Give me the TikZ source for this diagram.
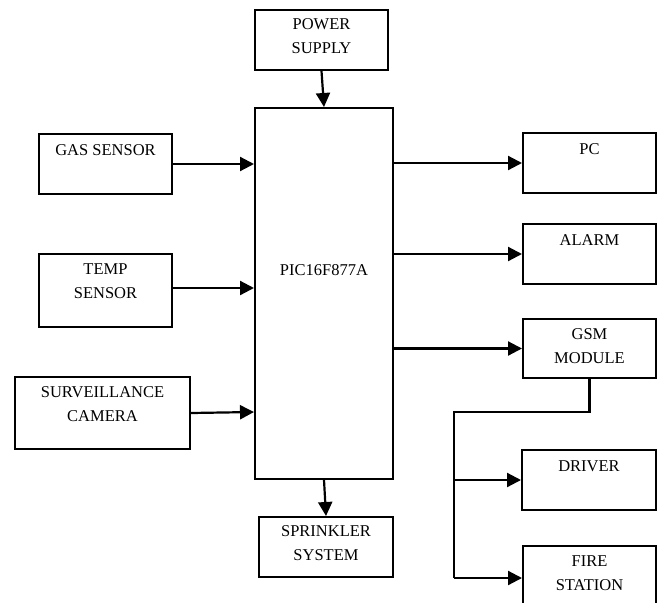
\documentclass[tikz,border=0pt]{standalone}
\usepackage{fontspec}
\setmainfont{Liberation Serif}
\usetikzlibrary{arrows.meta}
\begin{document}
\begin{tikzpicture}[x=1pt,y=-1pt,
  blk/.style={draw=black,line width=2pt,rectangle,inner sep=0pt},
  lbl/.style={anchor=north,align=center,inner sep=0pt,font=\fontsize{16.5}{24.5}\selectfont},
  arr/.style={line width=2.2pt,-{Triangle[length=14pt,width=14pt]}},
  ln/.style={line width=2.2pt}]
\useasboundingbox (0,0) rectangle (660,602);
\clip (0,0) rectangle (660,602);
\fill[white] (0,0) rectangle (660,602);
% boxes
\node[blk,minimum width=133pt,minimum height=60pt] (power) at (321.5,40) {};
\node[blk,minimum width=138pt,minimum height=371pt] (main) at (324,293.5) {};
\node[blk,minimum width=133pt,minimum height=60pt] (gas) at (105.5,164) {};
\node[blk,minimum width=133pt,minimum height=73pt] (temp) at (105.5,290.5) {};
\node[blk,minimum width=175pt,minimum height=72pt] (surv) at (102.5,413) {};
\node[blk,minimum width=133pt,minimum height=60pt] (pc) at (589.5,163) {};
\node[blk,minimum width=133pt,minimum height=60pt] (alarm) at (589.5,254) {};
\node[blk,minimum width=133pt,minimum height=59pt] (gsm) at (589.5,348.5) {};
\node[blk,minimum width=134pt,minimum height=60pt] (driver) at (589,480) {};
\node[blk,minimum width=133pt,minimum height=64pt] (fire) at (589.5,578) {};
\node[blk,minimum width=134pt,minimum height=60pt] (sprink) at (326,547) {};
% labels
\node[lbl] (powert) at ([yshift=-9pt]power.north) {POWER\\SUPPLY};
\node[lbl,anchor=center] (maint) at (324,270) {PIC16F877A};
\node[lbl] (gast) at ([yshift=-11pt]gas.north) {GAS SENSOR};
\node[lbl] (tempt) at ([yshift=-10pt]temp.north) {TEMP\\SENSOR};
\node[lbl] (survt) at ([yshift=-10pt]surv.north) {SURVEILLANCE\\CAMERA};
\node[lbl] (pct) at ([yshift=-11pt]pc.north) {PC};
\node[lbl] (alarmt) at ([yshift=-11pt]alarm.north) {ALARM};
\node[lbl] (gsmt) at ([yshift=-10pt]gsm.north) {GSM\\MODULE};
\node[lbl] (drivert) at ([yshift=-11pt]driver.north) {DRIVER};
\node[lbl] (firet) at ([yshift=-10pt]fire.north) {FIRE\\STATION};
\node[lbl] (sprinkt) at ([yshift=-9pt]sprink.north) {SPRINKLER\\SYSTEM};
% connectors
\draw[arr] (power.south) -- (main.north);
\draw[arr] (gas.east) -- (gas.east -| main.west);
\draw[arr] ([yshift=2.5pt]temp.east) -- ([yshift=2.5pt]temp.east -| main.west);
\draw[arr] (surv.east) -- ([yshift=1pt]surv.east -| main.west);
\draw[arr] (main.east |- pc.west) -- (pc.west);
\draw[arr] (main.east |- alarm.west) -- (alarm.west);
\draw[arr] (main.east |- gsm.west) -- (gsm.west);
\draw[arr] (main.south) -- (sprink.north);
\coordinate (j) at (454,412);
\draw[ln] (gsm.south) |- (j) -- (j |- fire.west);
\draw[arr] (j |- driver.west) -- (driver.west);
\draw[arr] (j |- fire.west) -- (fire.west);
\end{tikzpicture}
\end{document}
